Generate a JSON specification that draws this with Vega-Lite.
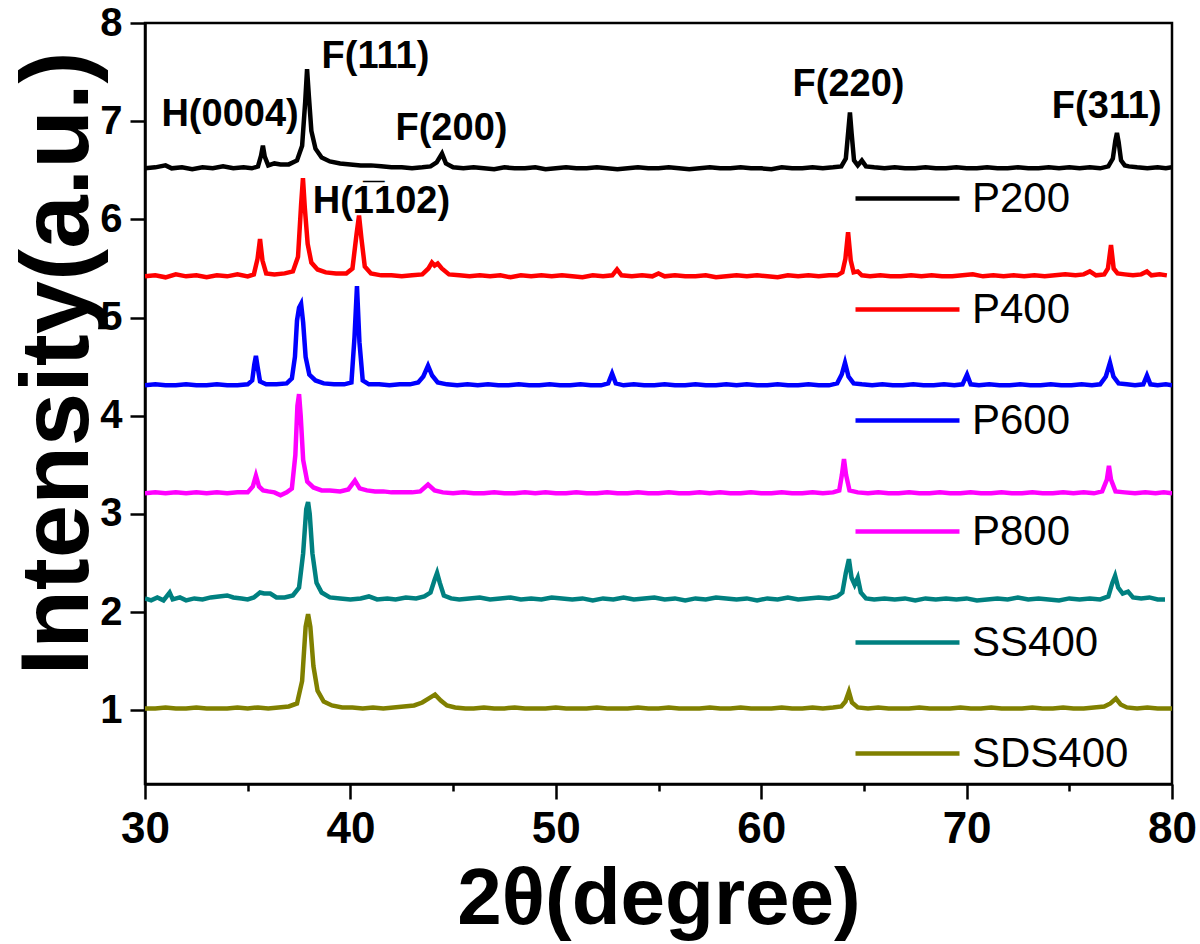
{
"$schema": "https://vega.github.io/schema/vega-lite/v6.json",
"width": 1027, "height": 761,
"autosize": {"type": "none"},
"padding": {"left": 145, "top": 23, "right": 28, "bottom": 160},
"background": "white",
"datasets": {
"xrd": [
{"s":"P200","x":30,"y":6.52},{"s":"P200","x":30.5,"y":6.53},{"s":"P200","x":31,"y":6.55},{"s":"P200","x":31.3,"y":6.52},{"s":"P200","x":31.8,"y":6.53},{"s":"P200","x":32.3,"y":6.51},{"s":"P200","x":32.8,"y":6.53},{"s":"P200","x":33.3,"y":6.52},{"s":"P200","x":33.8,"y":6.54},{"s":"P200","x":34.3,"y":6.52},{"s":"P200","x":34.8,"y":6.53},{"s":"P200","x":35.2,"y":6.52},{"s":"P200","x":35.5,"y":6.54},{"s":"P200","x":35.65,"y":6.65},{"s":"P200","x":35.74,"y":6.75},{"s":"P200","x":35.83,"y":6.64},{"s":"P200","x":36,"y":6.55},{"s":"P200","x":36.3,"y":6.57},{"s":"P200","x":36.6,"y":6.56},{"s":"P200","x":37,"y":6.56},{"s":"P200","x":37.4,"y":6.6},{"s":"P200","x":37.65,"y":6.75},{"s":"P200","x":37.8,"y":7.2},{"s":"P200","x":37.89,"y":7.53},{"s":"P200","x":37.98,"y":7.25},{"s":"P200","x":38.1,"y":6.9},{"s":"P200","x":38.3,"y":6.72},{"s":"P200","x":38.6,"y":6.63},{"s":"P200","x":39,"y":6.59},{"s":"P200","x":39.5,"y":6.57},{"s":"P200","x":40,"y":6.56},{"s":"P200","x":40.5,"y":6.55},{"s":"P200","x":41,"y":6.55},{"s":"P200","x":41.5,"y":6.54},{"s":"P200","x":42,"y":6.53},{"s":"P200","x":42.5,"y":6.53},{"s":"P200","x":43,"y":6.52},{"s":"P200","x":43.5,"y":6.53},{"s":"P200","x":43.9,"y":6.54},{"s":"P200","x":44.2,"y":6.58},{"s":"P200","x":44.46,"y":6.67},{"s":"P200","x":44.65,"y":6.57},{"s":"P200","x":45,"y":6.53},{"s":"P200","x":45.5,"y":6.52},{"s":"P200","x":46,"y":6.53},{"s":"P200","x":46.5,"y":6.52},{"s":"P200","x":47,"y":6.51},{"s":"P200","x":47.5,"y":6.53},{"s":"P200","x":48,"y":6.52},{"s":"P200","x":48.5,"y":6.52},{"s":"P200","x":49,"y":6.53},{"s":"P200","x":49.5,"y":6.51},{"s":"P200","x":50,"y":6.52},{"s":"P200","x":50.5,"y":6.53},{"s":"P200","x":51,"y":6.52},{"s":"P200","x":51.5,"y":6.52},{"s":"P200","x":52,"y":6.53},{"s":"P200","x":52.5,"y":6.52},{"s":"P200","x":53,"y":6.51},{"s":"P200","x":53.5,"y":6.52},{"s":"P200","x":54,"y":6.53},{"s":"P200","x":54.5,"y":6.52},{"s":"P200","x":55,"y":6.52},{"s":"P200","x":55.5,"y":6.53},{"s":"P200","x":56,"y":6.52},{"s":"P200","x":56.5,"y":6.51},{"s":"P200","x":57,"y":6.52},{"s":"P200","x":57.5,"y":6.53},{"s":"P200","x":58,"y":6.52},{"s":"P200","x":58.5,"y":6.52},{"s":"P200","x":59,"y":6.53},{"s":"P200","x":59.5,"y":6.52},{"s":"P200","x":60,"y":6.52},{"s":"P200","x":60.5,"y":6.51},{"s":"P200","x":61,"y":6.53},{"s":"P200","x":61.5,"y":6.52},{"s":"P200","x":62,"y":6.52},{"s":"P200","x":62.5,"y":6.53},{"s":"P200","x":63,"y":6.52},{"s":"P200","x":63.5,"y":6.53},{"s":"P200","x":63.9,"y":6.54},{"s":"P200","x":64.12,"y":6.62},{"s":"P200","x":64.24,"y":6.9},{"s":"P200","x":64.32,"y":7.09},{"s":"P200","x":64.4,"y":6.88},{"s":"P200","x":64.52,"y":6.6},{"s":"P200","x":64.7,"y":6.55},{"s":"P200","x":64.9,"y":6.6},{"s":"P200","x":65.1,"y":6.54},{"s":"P200","x":65.5,"y":6.53},{"s":"P200","x":66,"y":6.52},{"s":"P200","x":66.5,"y":6.53},{"s":"P200","x":67,"y":6.52},{"s":"P200","x":67.5,"y":6.52},{"s":"P200","x":68,"y":6.53},{"s":"P200","x":68.5,"y":6.52},{"s":"P200","x":69,"y":6.52},{"s":"P200","x":69.5,"y":6.53},{"s":"P200","x":70,"y":6.52},{"s":"P200","x":70.5,"y":6.52},{"s":"P200","x":71,"y":6.53},{"s":"P200","x":71.5,"y":6.52},{"s":"P200","x":72,"y":6.52},{"s":"P200","x":72.5,"y":6.53},{"s":"P200","x":73,"y":6.52},{"s":"P200","x":73.5,"y":6.52},{"s":"P200","x":74,"y":6.53},{"s":"P200","x":74.5,"y":6.52},{"s":"P200","x":75,"y":6.53},{"s":"P200","x":75.5,"y":6.52},{"s":"P200","x":76,"y":6.53},{"s":"P200","x":76.5,"y":6.52},{"s":"P200","x":76.9,"y":6.54},{"s":"P200","x":77.12,"y":6.62},{"s":"P200","x":77.24,"y":6.8},{"s":"P200","x":77.32,"y":6.88},{"s":"P200","x":77.4,"y":6.79},{"s":"P200","x":77.52,"y":6.6},{"s":"P200","x":77.7,"y":6.55},{"s":"P200","x":77.9,"y":6.54},{"s":"P200","x":78.3,"y":6.53},{"s":"P200","x":78.8,"y":6.52},{"s":"P200","x":79.3,"y":6.53},{"s":"P200","x":79.7,"y":6.52},{"s":"P200","x":80,"y":6.53},
{"s":"P400","x":30,"y":5.42},{"s":"P400","x":30.5,"y":5.43},{"s":"P400","x":31,"y":5.41},{"s":"P400","x":31.5,"y":5.44},{"s":"P400","x":32,"y":5.42},{"s":"P400","x":32.5,"y":5.43},{"s":"P400","x":33,"y":5.41},{"s":"P400","x":33.5,"y":5.43},{"s":"P400","x":34,"y":5.42},{"s":"P400","x":34.5,"y":5.44},{"s":"P400","x":35,"y":5.42},{"s":"P400","x":35.3,"y":5.44},{"s":"P400","x":35.48,"y":5.6},{"s":"P400","x":35.6,"y":5.8},{"s":"P400","x":35.72,"y":5.58},{"s":"P400","x":35.9,"y":5.45},{"s":"P400","x":36.3,"y":5.44},{"s":"P400","x":36.8,"y":5.45},{"s":"P400","x":37.2,"y":5.47},{"s":"P400","x":37.45,"y":5.62},{"s":"P400","x":37.6,"y":6.15},{"s":"P400","x":37.69,"y":6.42},{"s":"P400","x":37.78,"y":6.12},{"s":"P400","x":37.92,"y":5.75},{"s":"P400","x":38.1,"y":5.56},{"s":"P400","x":38.4,"y":5.49},{"s":"P400","x":38.8,"y":5.46},{"s":"P400","x":39.3,"y":5.45},{"s":"P400","x":39.8,"y":5.45},{"s":"P400","x":40.1,"y":5.5},{"s":"P400","x":40.3,"y":5.85},{"s":"P400","x":40.42,"y":6.04},{"s":"P400","x":40.54,"y":5.8},{"s":"P400","x":40.7,"y":5.52},{"s":"P400","x":41,"y":5.45},{"s":"P400","x":41.5,"y":5.43},{"s":"P400","x":42,"y":5.43},{"s":"P400","x":42.5,"y":5.42},{"s":"P400","x":43,"y":5.43},{"s":"P400","x":43.5,"y":5.44},{"s":"P400","x":43.8,"y":5.5},{"s":"P400","x":43.97,"y":5.56},{"s":"P400","x":44.1,"y":5.53},{"s":"P400","x":44.25,"y":5.55},{"s":"P400","x":44.45,"y":5.5},{"s":"P400","x":44.8,"y":5.44},{"s":"P400","x":45.3,"y":5.43},{"s":"P400","x":45.8,"y":5.42},{"s":"P400","x":46.3,"y":5.43},{"s":"P400","x":46.8,"y":5.42},{"s":"P400","x":47.3,"y":5.43},{"s":"P400","x":47.8,"y":5.41},{"s":"P400","x":48.3,"y":5.43},{"s":"P400","x":48.8,"y":5.42},{"s":"P400","x":49.3,"y":5.43},{"s":"P400","x":49.8,"y":5.42},{"s":"P400","x":50.3,"y":5.43},{"s":"P400","x":50.8,"y":5.42},{"s":"P400","x":51.3,"y":5.41},{"s":"P400","x":51.8,"y":5.43},{"s":"P400","x":52.3,"y":5.42},{"s":"P400","x":52.75,"y":5.43},{"s":"P400","x":52.98,"y":5.49},{"s":"P400","x":53.2,"y":5.43},{"s":"P400","x":53.7,"y":5.42},{"s":"P400","x":54.2,"y":5.43},{"s":"P400","x":54.7,"y":5.42},{"s":"P400","x":55,"y":5.45},{"s":"P400","x":55.3,"y":5.42},{"s":"P400","x":55.8,"y":5.43},{"s":"P400","x":56.3,"y":5.42},{"s":"P400","x":56.8,"y":5.42},{"s":"P400","x":57.3,"y":5.43},{"s":"P400","x":57.8,"y":5.41},{"s":"P400","x":58.3,"y":5.42},{"s":"P400","x":58.8,"y":5.43},{"s":"P400","x":59.3,"y":5.42},{"s":"P400","x":59.8,"y":5.43},{"s":"P400","x":60.3,"y":5.42},{"s":"P400","x":60.8,"y":5.41},{"s":"P400","x":61.3,"y":5.43},{"s":"P400","x":61.8,"y":5.42},{"s":"P400","x":62.3,"y":5.43},{"s":"P400","x":62.8,"y":5.42},{"s":"P400","x":63.3,"y":5.43},{"s":"P400","x":63.7,"y":5.43},{"s":"P400","x":63.95,"y":5.46},{"s":"P400","x":64.1,"y":5.6},{"s":"P400","x":64.23,"y":5.87},{"s":"P400","x":64.36,"y":5.58},{"s":"P400","x":64.5,"y":5.46},{"s":"P400","x":64.7,"y":5.47},{"s":"P400","x":64.9,"y":5.43},{"s":"P400","x":65.3,"y":5.42},{"s":"P400","x":65.8,"y":5.43},{"s":"P400","x":66.3,"y":5.42},{"s":"P400","x":66.8,"y":5.42},{"s":"P400","x":67.3,"y":5.43},{"s":"P400","x":67.8,"y":5.42},{"s":"P400","x":68.3,"y":5.43},{"s":"P400","x":68.8,"y":5.42},{"s":"P400","x":69.3,"y":5.42},{"s":"P400","x":69.8,"y":5.43},{"s":"P400","x":70.3,"y":5.44},{"s":"P400","x":70.8,"y":5.42},{"s":"P400","x":71.3,"y":5.43},{"s":"P400","x":71.8,"y":5.42},{"s":"P400","x":72.3,"y":5.43},{"s":"P400","x":72.8,"y":5.42},{"s":"P400","x":73.3,"y":5.43},{"s":"P400","x":73.8,"y":5.42},{"s":"P400","x":74.3,"y":5.43},{"s":"P400","x":74.8,"y":5.44},{"s":"P400","x":75.3,"y":5.43},{"s":"P400","x":75.7,"y":5.44},{"s":"P400","x":76,"y":5.47},{"s":"P400","x":76.3,"y":5.43},{"s":"P400","x":76.7,"y":5.44},{"s":"P400","x":76.88,"y":5.5},{"s":"P400","x":77.03,"y":5.74},{"s":"P400","x":77.16,"y":5.5},{"s":"P400","x":77.35,"y":5.45},{"s":"P400","x":77.7,"y":5.44},{"s":"P400","x":78.1,"y":5.43},{"s":"P400","x":78.5,"y":5.44},{"s":"P400","x":78.78,"y":5.47},{"s":"P400","x":79,"y":5.43},{"s":"P400","x":79.4,"y":5.44},{"s":"P400","x":79.75,"y":5.43},
{"s":"P600","x":30,"y":4.31},{"s":"P600","x":30.5,"y":4.32},{"s":"P600","x":31,"y":4.31},{"s":"P600","x":31.5,"y":4.31},{"s":"P600","x":32,"y":4.32},{"s":"P600","x":32.5,"y":4.31},{"s":"P600","x":33,"y":4.31},{"s":"P600","x":33.5,"y":4.32},{"s":"P600","x":34,"y":4.31},{"s":"P600","x":34.5,"y":4.31},{"s":"P600","x":35,"y":4.32},{"s":"P600","x":35.22,"y":4.36},{"s":"P600","x":35.32,"y":4.52},{"s":"P600","x":35.4,"y":4.61},{"s":"P600","x":35.48,"y":4.5},{"s":"P600","x":35.6,"y":4.35},{"s":"P600","x":35.9,"y":4.32},{"s":"P600","x":36.4,"y":4.32},{"s":"P600","x":36.9,"y":4.33},{"s":"P600","x":37.15,"y":4.38},{"s":"P600","x":37.3,"y":4.6},{"s":"P600","x":37.4,"y":4.97},{"s":"P600","x":37.5,"y":5.1},{"s":"P600","x":37.6,"y":5.14},{"s":"P600","x":37.7,"y":4.95},{"s":"P600","x":37.82,"y":4.6},{"s":"P600","x":38,"y":4.42},{"s":"P600","x":38.3,"y":4.36},{"s":"P600","x":38.7,"y":4.33},{"s":"P600","x":39.2,"y":4.32},{"s":"P600","x":39.7,"y":4.32},{"s":"P600","x":40.05,"y":4.34},{"s":"P600","x":40.2,"y":4.8},{"s":"P600","x":40.32,"y":5.32},{"s":"P600","x":40.44,"y":4.75},{"s":"P600","x":40.6,"y":4.36},{"s":"P600","x":40.9,"y":4.32},{"s":"P600","x":41.4,"y":4.32},{"s":"P600","x":41.9,"y":4.31},{"s":"P600","x":42.4,"y":4.32},{"s":"P600","x":42.9,"y":4.32},{"s":"P600","x":43.3,"y":4.34},{"s":"P600","x":43.55,"y":4.4},{"s":"P600","x":43.78,"y":4.51},{"s":"P600","x":43.98,"y":4.41},{"s":"P600","x":44.25,"y":4.34},{"s":"P600","x":44.7,"y":4.32},{"s":"P600","x":45.2,"y":4.31},{"s":"P600","x":45.7,"y":4.32},{"s":"P600","x":46.2,"y":4.31},{"s":"P600","x":46.7,"y":4.32},{"s":"P600","x":47.2,"y":4.31},{"s":"P600","x":47.7,"y":4.31},{"s":"P600","x":48.2,"y":4.32},{"s":"P600","x":48.7,"y":4.31},{"s":"P600","x":49.2,"y":4.31},{"s":"P600","x":49.7,"y":4.32},{"s":"P600","x":50.2,"y":4.31},{"s":"P600","x":50.7,"y":4.31},{"s":"P600","x":51.2,"y":4.32},{"s":"P600","x":51.7,"y":4.31},{"s":"P600","x":52.2,"y":4.31},{"s":"P600","x":52.55,"y":4.33},{"s":"P600","x":52.74,"y":4.43},{"s":"P600","x":52.92,"y":4.33},{"s":"P600","x":53.3,"y":4.31},{"s":"P600","x":53.8,"y":4.32},{"s":"P600","x":54.3,"y":4.31},{"s":"P600","x":54.8,"y":4.31},{"s":"P600","x":55.3,"y":4.32},{"s":"P600","x":55.8,"y":4.31},{"s":"P600","x":56.3,"y":4.31},{"s":"P600","x":56.8,"y":4.32},{"s":"P600","x":57.3,"y":4.31},{"s":"P600","x":57.8,"y":4.31},{"s":"P600","x":58.3,"y":4.32},{"s":"P600","x":58.8,"y":4.31},{"s":"P600","x":59.3,"y":4.32},{"s":"P600","x":59.8,"y":4.31},{"s":"P600","x":60.3,"y":4.31},{"s":"P600","x":60.8,"y":4.32},{"s":"P600","x":61.3,"y":4.31},{"s":"P600","x":61.8,"y":4.31},{"s":"P600","x":62.3,"y":4.32},{"s":"P600","x":62.8,"y":4.31},{"s":"P600","x":63.3,"y":4.31},{"s":"P600","x":63.7,"y":4.33},{"s":"P600","x":63.92,"y":4.42},{"s":"P600","x":64.08,"y":4.54},{"s":"P600","x":64.25,"y":4.4},{"s":"P600","x":64.5,"y":4.33},{"s":"P600","x":64.9,"y":4.32},{"s":"P600","x":65.4,"y":4.31},{"s":"P600","x":65.9,"y":4.32},{"s":"P600","x":66.4,"y":4.31},{"s":"P600","x":66.9,"y":4.31},{"s":"P600","x":67.4,"y":4.32},{"s":"P600","x":67.9,"y":4.31},{"s":"P600","x":68.4,"y":4.31},{"s":"P600","x":68.9,"y":4.32},{"s":"P600","x":69.4,"y":4.31},{"s":"P600","x":69.8,"y":4.32},{"s":"P600","x":70.02,"y":4.42},{"s":"P600","x":70.2,"y":4.32},{"s":"P600","x":70.6,"y":4.31},{"s":"P600","x":71.1,"y":4.32},{"s":"P600","x":71.6,"y":4.31},{"s":"P600","x":72.1,"y":4.31},{"s":"P600","x":72.6,"y":4.32},{"s":"P600","x":73.1,"y":4.31},{"s":"P600","x":73.6,"y":4.31},{"s":"P600","x":74.1,"y":4.32},{"s":"P600","x":74.6,"y":4.31},{"s":"P600","x":75.1,"y":4.31},{"s":"P600","x":75.6,"y":4.32},{"s":"P600","x":76.1,"y":4.31},{"s":"P600","x":76.5,"y":4.32},{"s":"P600","x":76.78,"y":4.4},{"s":"P600","x":76.98,"y":4.54},{"s":"P600","x":77.15,"y":4.4},{"s":"P600","x":77.4,"y":4.33},{"s":"P600","x":77.8,"y":4.32},{"s":"P600","x":78.2,"y":4.31},{"s":"P600","x":78.6,"y":4.32},{"s":"P600","x":78.78,"y":4.41},{"s":"P600","x":78.95,"y":4.32},{"s":"P600","x":79.3,"y":4.31},{"s":"P600","x":79.7,"y":4.32},{"s":"P600","x":80,"y":4.31},
{"s":"P800","x":30,"y":3.21},{"s":"P800","x":30.5,"y":3.22},{"s":"P800","x":31,"y":3.21},{"s":"P800","x":31.5,"y":3.22},{"s":"P800","x":32,"y":3.21},{"s":"P800","x":32.5,"y":3.22},{"s":"P800","x":33,"y":3.21},{"s":"P800","x":33.5,"y":3.22},{"s":"P800","x":34,"y":3.21},{"s":"P800","x":34.5,"y":3.22},{"s":"P800","x":35,"y":3.22},{"s":"P800","x":35.25,"y":3.28},{"s":"P800","x":35.4,"y":3.39},{"s":"P800","x":35.55,"y":3.28},{"s":"P800","x":35.75,"y":3.24},{"s":"P800","x":36,"y":3.23},{"s":"P800","x":36.3,"y":3.22},{"s":"P800","x":36.6,"y":3.19},{"s":"P800","x":36.9,"y":3.22},{"s":"P800","x":37.15,"y":3.26},{"s":"P800","x":37.32,"y":3.6},{"s":"P800","x":37.42,"y":4.1},{"s":"P800","x":37.5,"y":4.22},{"s":"P800","x":37.58,"y":4},{"s":"P800","x":37.7,"y":3.55},{"s":"P800","x":37.9,"y":3.33},{"s":"P800","x":38.2,"y":3.27},{"s":"P800","x":38.6,"y":3.24},{"s":"P800","x":39,"y":3.24},{"s":"P800","x":39.5,"y":3.23},{"s":"P800","x":39.9,"y":3.25},{"s":"P800","x":40.22,"y":3.34},{"s":"P800","x":40.45,"y":3.26},{"s":"P800","x":40.8,"y":3.24},{"s":"P800","x":41.2,"y":3.23},{"s":"P800","x":41.6,"y":3.23},{"s":"P800","x":42,"y":3.22},{"s":"P800","x":42.5,"y":3.22},{"s":"P800","x":43,"y":3.22},{"s":"P800","x":43.4,"y":3.23},{"s":"P800","x":43.78,"y":3.3},{"s":"P800","x":44.1,"y":3.24},{"s":"P800","x":44.5,"y":3.22},{"s":"P800","x":45,"y":3.21},{"s":"P800","x":45.5,"y":3.22},{"s":"P800","x":46,"y":3.21},{"s":"P800","x":46.5,"y":3.21},{"s":"P800","x":47,"y":3.22},{"s":"P800","x":47.5,"y":3.21},{"s":"P800","x":48,"y":3.21},{"s":"P800","x":48.5,"y":3.22},{"s":"P800","x":49,"y":3.21},{"s":"P800","x":49.5,"y":3.22},{"s":"P800","x":50,"y":3.21},{"s":"P800","x":50.5,"y":3.21},{"s":"P800","x":51,"y":3.22},{"s":"P800","x":51.5,"y":3.21},{"s":"P800","x":52,"y":3.21},{"s":"P800","x":52.5,"y":3.22},{"s":"P800","x":53,"y":3.21},{"s":"P800","x":53.5,"y":3.21},{"s":"P800","x":54,"y":3.22},{"s":"P800","x":54.5,"y":3.21},{"s":"P800","x":55,"y":3.21},{"s":"P800","x":55.5,"y":3.22},{"s":"P800","x":56,"y":3.21},{"s":"P800","x":56.5,"y":3.21},{"s":"P800","x":57,"y":3.22},{"s":"P800","x":57.5,"y":3.21},{"s":"P800","x":58,"y":3.22},{"s":"P800","x":58.5,"y":3.21},{"s":"P800","x":59,"y":3.21},{"s":"P800","x":59.5,"y":3.22},{"s":"P800","x":60,"y":3.21},{"s":"P800","x":60.5,"y":3.21},{"s":"P800","x":61,"y":3.22},{"s":"P800","x":61.5,"y":3.21},{"s":"P800","x":62,"y":3.21},{"s":"P800","x":62.5,"y":3.22},{"s":"P800","x":63,"y":3.21},{"s":"P800","x":63.5,"y":3.22},{"s":"P800","x":63.8,"y":3.24},{"s":"P800","x":63.93,"y":3.4},{"s":"P800","x":64.03,"y":3.56},{"s":"P800","x":64.13,"y":3.4},{"s":"P800","x":64.3,"y":3.24},{"s":"P800","x":64.7,"y":3.22},{"s":"P800","x":65.2,"y":3.21},{"s":"P800","x":65.7,"y":3.22},{"s":"P800","x":66.2,"y":3.21},{"s":"P800","x":66.7,"y":3.21},{"s":"P800","x":67.2,"y":3.22},{"s":"P800","x":67.7,"y":3.21},{"s":"P800","x":68.2,"y":3.21},{"s":"P800","x":68.7,"y":3.22},{"s":"P800","x":69.2,"y":3.21},{"s":"P800","x":69.7,"y":3.21},{"s":"P800","x":70.2,"y":3.22},{"s":"P800","x":70.7,"y":3.21},{"s":"P800","x":71.2,"y":3.21},{"s":"P800","x":71.7,"y":3.22},{"s":"P800","x":72.2,"y":3.21},{"s":"P800","x":72.7,"y":3.21},{"s":"P800","x":73.2,"y":3.22},{"s":"P800","x":73.7,"y":3.21},{"s":"P800","x":74.2,"y":3.21},{"s":"P800","x":74.7,"y":3.22},{"s":"P800","x":75.2,"y":3.21},{"s":"P800","x":75.7,"y":3.22},{"s":"P800","x":76.2,"y":3.21},{"s":"P800","x":76.6,"y":3.23},{"s":"P800","x":76.83,"y":3.35},{"s":"P800","x":76.93,"y":3.49},{"s":"P800","x":77.03,"y":3.35},{"s":"P800","x":77.25,"y":3.23},{"s":"P800","x":77.7,"y":3.22},{"s":"P800","x":78.2,"y":3.21},{"s":"P800","x":78.7,"y":3.22},{"s":"P800","x":79.2,"y":3.21},{"s":"P800","x":79.6,"y":3.22},{"s":"P800","x":80,"y":3.21},
{"s":"SS400","x":30,"y":2.14},{"s":"SS400","x":30.3,"y":2.12},{"s":"SS400","x":30.6,"y":2.15},{"s":"SS400","x":30.9,"y":2.12},{"s":"SS400","x":31.2,"y":2.2},{"s":"SS400","x":31.35,"y":2.13},{"s":"SS400","x":31.7,"y":2.15},{"s":"SS400","x":32,"y":2.12},{"s":"SS400","x":32.4,"y":2.14},{"s":"SS400","x":32.8,"y":2.13},{"s":"SS400","x":33.2,"y":2.15},{"s":"SS400","x":33.6,"y":2.16},{"s":"SS400","x":34,"y":2.17},{"s":"SS400","x":34.3,"y":2.15},{"s":"SS400","x":34.7,"y":2.14},{"s":"SS400","x":35,"y":2.13},{"s":"SS400","x":35.3,"y":2.15},{"s":"SS400","x":35.6,"y":2.2},{"s":"SS400","x":35.8,"y":2.19},{"s":"SS400","x":36.1,"y":2.19},{"s":"SS400","x":36.4,"y":2.15},{"s":"SS400","x":36.8,"y":2.15},{"s":"SS400","x":37.2,"y":2.17},{"s":"SS400","x":37.5,"y":2.25},{"s":"SS400","x":37.7,"y":2.6},{"s":"SS400","x":37.85,"y":3.05},{"s":"SS400","x":37.94,"y":3.12},{"s":"SS400","x":38.02,"y":3},{"s":"SS400","x":38.15,"y":2.6},{"s":"SS400","x":38.35,"y":2.3},{"s":"SS400","x":38.6,"y":2.2},{"s":"SS400","x":39,"y":2.15},{"s":"SS400","x":39.5,"y":2.14},{"s":"SS400","x":40,"y":2.13},{"s":"SS400","x":40.5,"y":2.14},{"s":"SS400","x":40.9,"y":2.16},{"s":"SS400","x":41.3,"y":2.13},{"s":"SS400","x":41.8,"y":2.14},{"s":"SS400","x":42.2,"y":2.13},{"s":"SS400","x":42.7,"y":2.15},{"s":"SS400","x":43.2,"y":2.14},{"s":"SS400","x":43.6,"y":2.16},{"s":"SS400","x":43.9,"y":2.2},{"s":"SS400","x":44.1,"y":2.33},{"s":"SS400","x":44.22,"y":2.4},{"s":"SS400","x":44.35,"y":2.3},{"s":"SS400","x":44.55,"y":2.17},{"s":"SS400","x":44.9,"y":2.14},{"s":"SS400","x":45.3,"y":2.13},{"s":"SS400","x":45.8,"y":2.14},{"s":"SS400","x":46.3,"y":2.15},{"s":"SS400","x":46.8,"y":2.13},{"s":"SS400","x":47.3,"y":2.14},{"s":"SS400","x":47.8,"y":2.15},{"s":"SS400","x":48.3,"y":2.13},{"s":"SS400","x":48.8,"y":2.14},{"s":"SS400","x":49.3,"y":2.13},{"s":"SS400","x":49.8,"y":2.15},{"s":"SS400","x":50.3,"y":2.14},{"s":"SS400","x":50.8,"y":2.13},{"s":"SS400","x":51.3,"y":2.14},{"s":"SS400","x":51.8,"y":2.12},{"s":"SS400","x":52.3,"y":2.14},{"s":"SS400","x":52.8,"y":2.13},{"s":"SS400","x":53.3,"y":2.15},{"s":"SS400","x":53.8,"y":2.13},{"s":"SS400","x":54.3,"y":2.14},{"s":"SS400","x":54.8,"y":2.15},{"s":"SS400","x":55.3,"y":2.13},{"s":"SS400","x":55.8,"y":2.14},{"s":"SS400","x":56.3,"y":2.12},{"s":"SS400","x":56.8,"y":2.14},{"s":"SS400","x":57.3,"y":2.13},{"s":"SS400","x":57.8,"y":2.15},{"s":"SS400","x":58.3,"y":2.14},{"s":"SS400","x":58.8,"y":2.13},{"s":"SS400","x":59.3,"y":2.14},{"s":"SS400","x":59.8,"y":2.12},{"s":"SS400","x":60.3,"y":2.14},{"s":"SS400","x":60.8,"y":2.13},{"s":"SS400","x":61.3,"y":2.15},{"s":"SS400","x":61.8,"y":2.13},{"s":"SS400","x":62.3,"y":2.14},{"s":"SS400","x":62.8,"y":2.15},{"s":"SS400","x":63.3,"y":2.14},{"s":"SS400","x":63.7,"y":2.16},{"s":"SS400","x":63.95,"y":2.2},{"s":"SS400","x":64.12,"y":2.4},{"s":"SS400","x":64.27,"y":2.54},{"s":"SS400","x":64.4,"y":2.35},{"s":"SS400","x":64.55,"y":2.28},{"s":"SS400","x":64.7,"y":2.35},{"s":"SS400","x":64.85,"y":2.2},{"s":"SS400","x":65.1,"y":2.14},{"s":"SS400","x":65.5,"y":2.13},{"s":"SS400","x":66,"y":2.14},{"s":"SS400","x":66.5,"y":2.13},{"s":"SS400","x":67,"y":2.14},{"s":"SS400","x":67.5,"y":2.12},{"s":"SS400","x":68,"y":2.14},{"s":"SS400","x":68.5,"y":2.13},{"s":"SS400","x":69,"y":2.14},{"s":"SS400","x":69.5,"y":2.13},{"s":"SS400","x":70,"y":2.14},{"s":"SS400","x":70.5,"y":2.12},{"s":"SS400","x":71,"y":2.13},{"s":"SS400","x":71.5,"y":2.14},{"s":"SS400","x":72,"y":2.13},{"s":"SS400","x":72.5,"y":2.15},{"s":"SS400","x":73,"y":2.13},{"s":"SS400","x":73.5,"y":2.14},{"s":"SS400","x":74,"y":2.13},{"s":"SS400","x":74.5,"y":2.12},{"s":"SS400","x":75,"y":2.14},{"s":"SS400","x":75.5,"y":2.13},{"s":"SS400","x":76,"y":2.14},{"s":"SS400","x":76.5,"y":2.13},{"s":"SS400","x":76.9,"y":2.16},{"s":"SS400","x":77.1,"y":2.3},{"s":"SS400","x":77.23,"y":2.37},{"s":"SS400","x":77.38,"y":2.25},{"s":"SS400","x":77.6,"y":2.19},{"s":"SS400","x":77.86,"y":2.21},{"s":"SS400","x":78.1,"y":2.15},{"s":"SS400","x":78.5,"y":2.14},{"s":"SS400","x":78.9,"y":2.15},{"s":"SS400","x":79.3,"y":2.13},{"s":"SS400","x":79.66,"y":2.13},
{"s":"SDS400","x":30,"y":1.02},{"s":"SDS400","x":30.5,"y":1.02},{"s":"SDS400","x":31,"y":1.03},{"s":"SDS400","x":31.5,"y":1.02},{"s":"SDS400","x":32,"y":1.02},{"s":"SDS400","x":32.5,"y":1.03},{"s":"SDS400","x":33,"y":1.02},{"s":"SDS400","x":33.5,"y":1.02},{"s":"SDS400","x":34,"y":1.02},{"s":"SDS400","x":34.5,"y":1.03},{"s":"SDS400","x":35,"y":1.02},{"s":"SDS400","x":35.5,"y":1.03},{"s":"SDS400","x":36,"y":1.02},{"s":"SDS400","x":36.5,"y":1.03},{"s":"SDS400","x":37,"y":1.04},{"s":"SDS400","x":37.4,"y":1.07},{"s":"SDS400","x":37.65,"y":1.3},{"s":"SDS400","x":37.82,"y":1.85},{"s":"SDS400","x":37.94,"y":1.98},{"s":"SDS400","x":38.05,"y":1.85},{"s":"SDS400","x":38.2,"y":1.45},{"s":"SDS400","x":38.4,"y":1.2},{"s":"SDS400","x":38.7,"y":1.09},{"s":"SDS400","x":39.1,"y":1.05},{"s":"SDS400","x":39.6,"y":1.03},{"s":"SDS400","x":40.1,"y":1.03},{"s":"SDS400","x":40.6,"y":1.02},{"s":"SDS400","x":41.1,"y":1.03},{"s":"SDS400","x":41.6,"y":1.02},{"s":"SDS400","x":42.1,"y":1.03},{"s":"SDS400","x":42.6,"y":1.04},{"s":"SDS400","x":43.1,"y":1.05},{"s":"SDS400","x":43.5,"y":1.08},{"s":"SDS400","x":43.8,"y":1.12},{"s":"SDS400","x":44.12,"y":1.16},{"s":"SDS400","x":44.4,"y":1.1},{"s":"SDS400","x":44.7,"y":1.05},{"s":"SDS400","x":45.1,"y":1.03},{"s":"SDS400","x":45.6,"y":1.02},{"s":"SDS400","x":46,"y":1.02},{"s":"SDS400","x":46.5,"y":1.03},{"s":"SDS400","x":47,"y":1.02},{"s":"SDS400","x":47.5,"y":1.02},{"s":"SDS400","x":48,"y":1.03},{"s":"SDS400","x":48.5,"y":1.02},{"s":"SDS400","x":49,"y":1.02},{"s":"SDS400","x":49.5,"y":1.02},{"s":"SDS400","x":50,"y":1.03},{"s":"SDS400","x":50.5,"y":1.02},{"s":"SDS400","x":51,"y":1.02},{"s":"SDS400","x":51.5,"y":1.02},{"s":"SDS400","x":52,"y":1.03},{"s":"SDS400","x":52.5,"y":1.02},{"s":"SDS400","x":53,"y":1.02},{"s":"SDS400","x":53.5,"y":1.02},{"s":"SDS400","x":54,"y":1.03},{"s":"SDS400","x":54.5,"y":1.02},{"s":"SDS400","x":55,"y":1.02},{"s":"SDS400","x":55.5,"y":1.03},{"s":"SDS400","x":56,"y":1.02},{"s":"SDS400","x":56.5,"y":1.02},{"s":"SDS400","x":57,"y":1.02},{"s":"SDS400","x":57.5,"y":1.03},{"s":"SDS400","x":58,"y":1.02},{"s":"SDS400","x":58.5,"y":1.02},{"s":"SDS400","x":59,"y":1.03},{"s":"SDS400","x":59.5,"y":1.02},{"s":"SDS400","x":60,"y":1.02},{"s":"SDS400","x":60.5,"y":1.02},{"s":"SDS400","x":61,"y":1.03},{"s":"SDS400","x":61.5,"y":1.02},{"s":"SDS400","x":62,"y":1.02},{"s":"SDS400","x":62.5,"y":1.03},{"s":"SDS400","x":63,"y":1.02},{"s":"SDS400","x":63.5,"y":1.03},{"s":"SDS400","x":63.9,"y":1.04},{"s":"SDS400","x":64.1,"y":1.09},{"s":"SDS400","x":64.27,"y":1.19},{"s":"SDS400","x":64.42,"y":1.08},{"s":"SDS400","x":64.7,"y":1.03},{"s":"SDS400","x":65.2,"y":1.02},{"s":"SDS400","x":65.7,"y":1.03},{"s":"SDS400","x":66.2,"y":1.02},{"s":"SDS400","x":66.7,"y":1.02},{"s":"SDS400","x":67.2,"y":1.02},{"s":"SDS400","x":67.7,"y":1.03},{"s":"SDS400","x":68.2,"y":1.02},{"s":"SDS400","x":68.7,"y":1.02},{"s":"SDS400","x":69.2,"y":1.02},{"s":"SDS400","x":69.7,"y":1.03},{"s":"SDS400","x":70.2,"y":1.02},{"s":"SDS400","x":70.7,"y":1.02},{"s":"SDS400","x":71.2,"y":1.03},{"s":"SDS400","x":71.7,"y":1.02},{"s":"SDS400","x":72.2,"y":1.02},{"s":"SDS400","x":72.7,"y":1.02},{"s":"SDS400","x":73.2,"y":1.03},{"s":"SDS400","x":73.7,"y":1.02},{"s":"SDS400","x":74.2,"y":1.02},{"s":"SDS400","x":74.7,"y":1.03},{"s":"SDS400","x":75.2,"y":1.02},{"s":"SDS400","x":75.7,"y":1.02},{"s":"SDS400","x":76.2,"y":1.03},{"s":"SDS400","x":76.7,"y":1.04},{"s":"SDS400","x":77,"y":1.07},{"s":"SDS400","x":77.27,"y":1.12},{"s":"SDS400","x":77.5,"y":1.06},{"s":"SDS400","x":77.8,"y":1.03},{"s":"SDS400","x":78.3,"y":1.02},{"s":"SDS400","x":78.8,"y":1.03},{"s":"SDS400","x":79.3,"y":1.02},{"s":"SDS400","x":79.7,"y":1.02},{"s":"SDS400","x":80,"y":1.02}
],
"ann": [
{"x":34.14,"y":7.06,"t":"H(0004)"},
{"x":41.22,"y":7.65,"t":"F(111)"},
{"x":44.92,"y":6.92,"t":"F(200)"},
{"x":41.51,"y":6.18,"t":"H(1\u0305102)"},
{"x":64.25,"y":7.37,"t":"F(220)"},
{"x":76.82,"y":7.14,"t":"F(311)"}
]
},
"config": {
"view": {"stroke": "black", "strokeWidth": 2.5},
"axis": {"domainColor": "black", "domainWidth": 2.5, "tickColor": "black", "tickWidth": 2.5, "grid": false, "labelColor": "black", "titleColor": "black", "labelFont": "Liberation Sans", "titleFont": "Liberation Sans", "labelFontWeight": "bold", "titleFontWeight": "bold"}
},
"layer": [
{
"data": {"name": "xrd"},
"mark": {"type": "line", "strokeWidth": 4.5, "clip": true},
"encoding": {
"x": {"field": "x", "type": "quantitative", "scale": {"domain": [30, 80], "nice": false, "zero": false},
"axis": {"orient": "bottom", "values": [30, 40, 50, 60, 70, 80], "format": "d", "tickSize": 15, "labelFontSize": 44, "labelPadding": 8, "labelFlush": false, "labelOverlap": false, "title": "2θ(degree)", "titleFontSize": 80, "titleBaseline": "alphabetic", "titleY": 139}},
"y": {"field": "y", "type": "quantitative", "scale": {"domain": [0.25, 8], "nice": false, "zero": false},
"axis": {"values": [1, 2, 3, 4, 5, 6, 7, 8], "format": "d", "tickSize": 15, "labelFontSize": 40, "labelPadding": 8, "labelOverlap": false, "title": "Intensity(a.u.)", "titleFontSize": 96, "titleAngle": 270, "titleAlign": "center", "titleBaseline": "alphabetic", "titleX": -58, "titleY": 340}},
"color": {"field": "s", "type": "nominal", "sort": null,
"scale": {"domain": ["P200", "P400", "P600", "P800", "SS400", "SDS400"], "range": ["#000000", "#ff0000", "#0000ff", "#ff00ff", "#008080", "#808000"]},
"legend": {"orient": "none", "legendX": 708, "legendY": 121, "title": null, "symbolType": "stroke", "symbolSize": 10816, "symbolStrokeWidth": 4.5, "labelFont": "Liberation Sans", "labelFontSize": 42, "labelFontWeight": "normal", "labelColor": "black", "labelOffset": 10, "labelLimit": 400, "rowPadding": 35, "padding": 0, "direction": "vertical"}}
}
},
{
"data": {"name": "ann"},
"mark": {"type": "text", "font": "Liberation Sans", "fontWeight": "bold", "fontSize": 38, "align": "center", "baseline": "middle", "color": "black"},
"encoding": {
"x": {"field": "x", "type": "quantitative", "axis": {"orient": "bottom", "values": [35, 45, 55, 65, 75], "labels": false, "tickSize": 7, "domain": false, "title": null, "grid": false}},
"y": {"field": "y", "type": "quantitative"},
"text": {"field": "t"}
}
}
],
"resolve": {"axis": {"x": "independent"}}
}
